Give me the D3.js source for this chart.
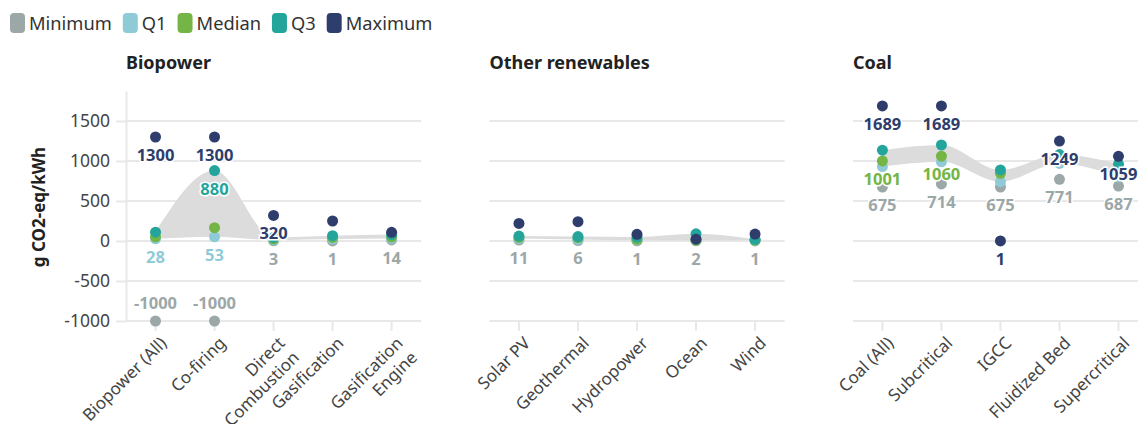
<!DOCTYPE html>
<html>
<head>
<meta charset="utf-8">
<script src="https://cdn.jsdelivr.net/npm/d3@7"></script>
<style>
  body { margin: 0; background: #fff; }
  svg { display: block; font-family: "Noto Sans", sans-serif; }
</style>
</head>
<body>
<script>
var width = 1138,
    height = 424;

// technology groups and categories
const panels = ["Biopower", "Other renewables", "Coal"];
const categories = ["Biopower (All)", "Co-firing", "Direct Combustion", "Gasification", "Gasification Engine",
    "Solar PV", "Geothermal", "Hydropower", "Ocean", "Wind",
    "Coal (All)", "Subcritical", "IGCC", "Fluidized Bed", "Supercritical"];
const groupOf = ["Biopower", "Biopower", "Biopower", "Biopower", "Biopower",
    "Other renewables", "Other renewables", "Other renewables", "Other renewables", "Other renewables",
    "Coal", "Coal", "Coal", "Coal", "Coal"];
const tickLabels = [["Biopower (All)"], ["Co-firing"], ["Direct", "Combustion"], ["Gasification"], ["Gasification", "Engine"],
    ["Solar PV"], ["Geothermal"], ["Hydropower"], ["Ocean"], ["Wind"],
    ["Coal (All)"], ["Subcritical"], ["IGCC"], ["Fluidized Bed"], ["Supercritical"]];

// g CO2-eq/kWh
const minimum = [-1000, -1000, 3, 1, 14, 11, 6, 1, 2, 1, 675, 714, 675, 771, 687];
const q1      = [28, 53, 12, 25, 30, 30, 20, 10, 5, 8, 930, 990, 742, 970, 800];
const median  = [52, 167, 25, 45, 50, 45, 42, 20, 10, 12, 1001, 1060, 846, 1020, 870];
const q3      = [110, 880, 45, 67, 80, 62, 55, 50, 90, 20, 1135, 1200, 888, 1080, 960];
const maximum = [1300, 1300, 320, 250, 108, 220, 242, 83, 23, 87, 1689, 1689, 1, 1249, 1059];

// which values get a text label
const labelled = [
    ["Biopower (All)", "Maximum"], ["Biopower (All)", "Q1"], ["Biopower (All)", "Minimum"],
    ["Co-firing", "Maximum"], ["Co-firing", "Q3"], ["Co-firing", "Q1"], ["Co-firing", "Minimum"],
    ["Direct Combustion", "Maximum"], ["Direct Combustion", "Minimum"],
    ["Gasification", "Minimum"], ["Gasification Engine", "Minimum"],
    ["Solar PV", "Minimum"], ["Geothermal", "Minimum"], ["Hydropower", "Minimum"], ["Ocean", "Minimum"], ["Wind", "Minimum"],
    ["Coal (All)", "Maximum"], ["Coal (All)", "Median"], ["Coal (All)", "Minimum"],
    ["Subcritical", "Maximum"], ["Subcritical", "Median"], ["Subcritical", "Minimum"],
    ["IGCC", "Maximum"], ["IGCC", "Minimum"],
    ["Fluidized Bed", "Maximum"], ["Fluidized Bed", "Minimum"],
    ["Supercritical", "Maximum"], ["Supercritical", "Minimum"]
];

const seriesNames = ["Minimum", "Q1", "Median", "Q3", "Maximum"];
const seriesValues = [minimum, q1, median, q3, maximum];
const seriesColors = ["#9ca7a8", "#8ecbd7", "#74b545", "#24a59b", "#2e3d6b"];
const yTicks = [-1000, -500, 0, 500, 1000, 1500];

const svg = d3.select("body").append("svg")
    .attr("width", width)
    .attr("height", height);

const color = d3.scaleOrdinal().domain(seriesNames).range(seriesColors);

// panel positions
const px = d3.scaleBand().domain(panels).range([126, 1148]).paddingInner(0.188).paddingOuter(0);
const y = d3.scaleLinear().domain([-1000, 1875]).range([321, 91]);

const rows = categories.map((c, i) => {
    const r = { category: c, group: groupOf[i], lines: tickLabels[i] };
    seriesNames.forEach((s, j) => { r[s] = seriesValues[j][i]; });
    return r;
});

// legend
const legend = svg.append("g").attr("transform", "translate(10,0)");
let lx = 0;
seriesNames.forEach((s) => {
    const item = legend.append("g").attr("transform", "translate(" + lx + ",0)");
    item.append("rect")
        .attr("x", 0).attr("y", 13)
        .attr("width", 15).attr("height", 20)
        .attr("rx", 4)
        .attr("fill", color(s));
    const t = item.append("text")
        .attr("x", 19).attr("y", 30)
        .attr("font-size", 18.3)
        .attr("fill", "#333")
        .text(s);
    lx += 19 + t.node().getComputedTextLength() + 11;
});

// y axis title
svg.append("text")
    .attr("transform", "translate(45,207) rotate(-90)")
    .attr("text-anchor", "middle")
    .attr("font-size", 17)
    .attr("font-weight", "bold")
    .attr("fill", "#222")
    .text("g CO2-eq/kWh");

panels.forEach((p, pi) => {
    const data = rows.filter(d => d.group === p);
    const x0 = px(p), w = px.bandwidth();
    const x = d3.scaleBand().domain(data.map(d => d.category)).range([x0, x0 + w]).padding(0);
    const cx = d => x(d.category) + x.bandwidth() / 2;

    const g = svg.append("g");

    // title
    g.append("text")
        .attr("x", x0).attr("y", 69)
        .attr("font-size", 18)
        .attr("font-weight", "bold")
        .attr("fill", "#222")
        .text(p);

    // grid
    g.append("g")
        .selectAll("line")
        .data(yTicks)
        .join("line")
        .attr("x1", x0).attr("x2", x0 + w)
        .attr("y1", d => y(d)).attr("y2", d => y(d))
        .attr("stroke", "#e8e8e8")
        .attr("stroke-width", 2);

    if (pi === 0) {
        const ya = g.append("g")
            .attr("transform", "translate(" + x0 + ",0)")
            .call(d3.axisLeft(y).tickValues(yTicks).tickFormat(d => String(d))
                .tickSize(10).tickSizeOuter(0).tickPadding(6));
        ya.select(".domain").attr("stroke", "#e8e8e8").attr("stroke-width", 2);
        ya.selectAll(".tick line").attr("stroke", "#e8e8e8").attr("stroke-width", 2);
        ya.selectAll(".tick text")
            .attr("font-size", 17.5)
            .attr("font-family", "Noto Sans, sans-serif")
            .attr("fill", "#444");
    }

    // x axis
    const xa = g.append("g")
        .attr("transform", "translate(0," + y(-1000) + ")")
        .call(d3.axisBottom(x).tickSize(10).tickFormat(""));
    xa.select(".domain").remove();
    xa.selectAll(".tick line").attr("stroke", "#e8e8e8").attr("stroke-width", 2);

    g.append("g")
        .selectAll("text")
        .data(data)
        .join("text")
        .attr("transform", d => "translate(" + (cx(d) + 8) + "," + (y(-1000) + 19) + ") rotate(-45)")
        .attr("text-anchor", "end")
        .attr("font-size", 17)
        .attr("fill", "#444")
        .each(function (d) {
            d3.select(this).selectAll("tspan")
                .data(d.lines)
                .join("tspan")
                .attr("x", 0)
                .attr("dy", (l, i) => i === 0 ? "0.35em" : "1.2em")
                .text(l => l);
        });

    // interquartile band
    g.append("path")
        .datum(data)
        .attr("d", d3.area()
            .x(cx)
            .y0(d => y(d.Q1))
            .y1(d => y(d.Q3))
            .curve(d3.curveMonotoneX))
        .attr("fill", "#dcdcdc");

    // points
    seriesNames.forEach((s) => {
        g.append("g")
            .selectAll("circle")
            .data(data)
            .join("circle")
            .attr("cx", cx)
            .attr("cy", d => y(d[s]))
            .attr("r", 5.5)
            .attr("fill", color(s));
    });

    // value labels
    const labs = labelled.filter(l => data.some(d => d.category === l[0]));
    g.append("g")
        .selectAll("text")
        .data(labs)
        .join("text")
        .attr("x", l => cx({ category: l[0] }))
        .attr("y", l => {
            const v = rows.find(d => d.category === l[0])[l[1]];
            return y(v) + (v < -500 ? -18 : 18);
        })
        .attr("dy", "0.36em")
        .attr("text-anchor", "middle")
        .attr("font-size", 16.5)
        .attr("font-weight", "bold")
        .attr("fill", l => color(l[1]))
        .attr("stroke", "#fff")
        .attr("stroke-width", 3)
        .attr("paint-order", "stroke")
        .text(l => rows.find(d => d.category === l[0])[l[1]]);
});
</script>
</body>
</html>
